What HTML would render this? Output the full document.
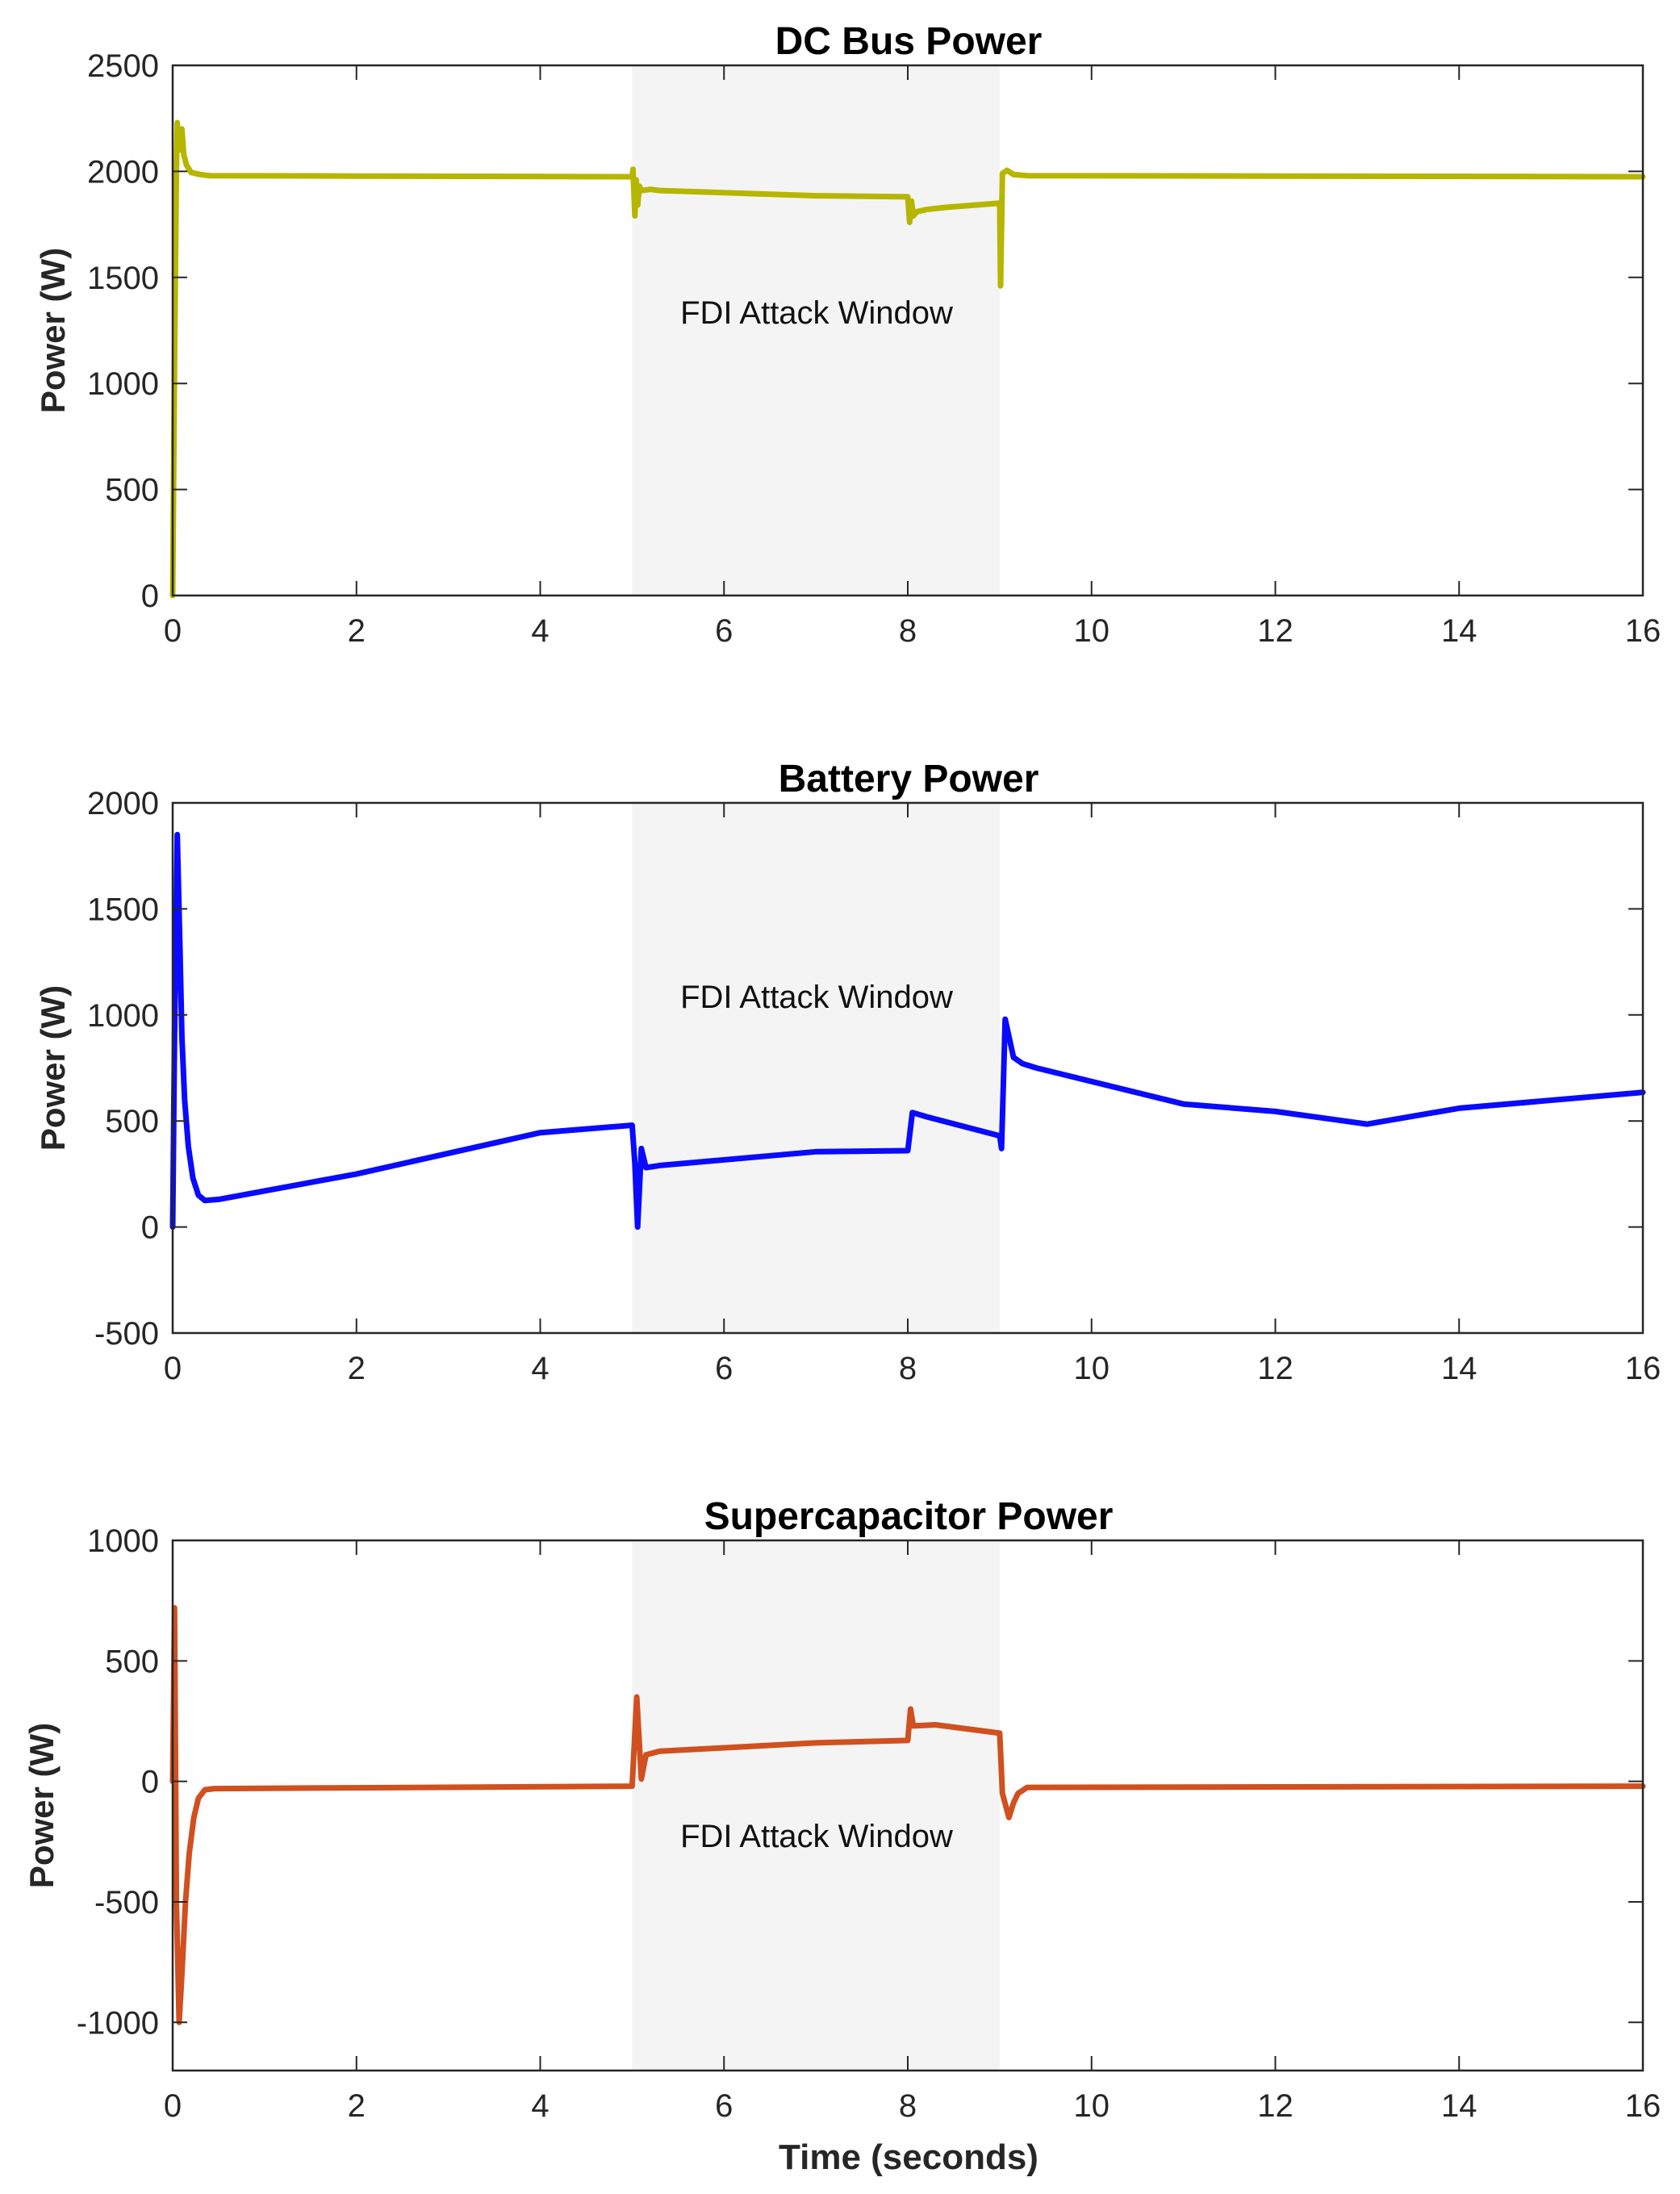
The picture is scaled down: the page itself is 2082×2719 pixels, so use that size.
<!DOCTYPE html>
<html><head><meta charset="utf-8"><style>
html,body{margin:0;padding:0;background:#fff}
svg{display:block;font-family:"Liberation Sans",Arial,sans-serif}
</style></head><body>
<svg id="fig" width="2082" height="2719" viewBox="0 0 2082 2719" xmlns="http://www.w3.org/2000/svg"></svg>
<script>
const xTicks = [0,2,4,6,8,10,12,14,16];
const attackWindow = [5,9];

const dcTimes  = [0,0.02,0.04,0.05,0.07,0.1,0.12,0.15,0.2,0.3,0.4,2,5,5.01,5.03,5.045,5.06,5.08,5.1,5.2,5.3,7,8,8.02,8.04,8.06,8.1,8.2,8.4,9,9.01,9.03,9.08,9.15,9.3,16];
const dcValues = [0,1100,2000,2230,2100,2200,2080,2030,1995,1985,1980,1978,1975,2010,1790,1960,1840,1930,1910,1915,1910,1885,1880,1760,1860,1790,1810,1820,1830,1850,1460,1990,2005,1985,1980,1975];
const dcTicks = [0,500,1000,1500,2000,2500];

const batTimes  = [0,0.02,0.05,0.08,0.1,0.13,0.17,0.22,0.28,0.35,0.5,2,4,5,5.03,5.06,5.1,5.15,5.3,7,8,8.05,8.2,9,9.02,9.06,9.1,9.15,9.25,9.4,11,12,13,14,16];
const batValues = [0,900,1850,1300,900,600,380,230,150,125,130,250,445,480,300,0,370,280,290,355,360,540,520,430,370,980,900,800,770,750,580,545,485,560,635];
const batTicks = [-500,0,500,1000,1500,2000];

const scTimes  = [0,0.02,0.04,0.07,0.1,0.14,0.18,0.23,0.28,0.35,0.45,5,5.05,5.1,5.15,5.3,7,8,8.03,8.06,8.3,9,9.03,9.1,9.15,9.2,9.3,16];
const scValues = [0,720,-500,-1000,-800,-500,-300,-150,-70,-35,-30,-20,350,10,110,125,160,170,300,230,235,200,-50,-150,-90,-50,-25,-20];
const scTicks = [-1000,-500,0,500,1000];

const NS="http://www.w3.org/2000/svg";
const svg=document.getElementById('fig');
const L=214,R=2036,H=657;
function mk(tag,attrs,parent){const e=document.createElementNS(NS,tag);for(const k in attrs)e.setAttribute(k,attrs[k]);(parent||svg).appendChild(e);return e;}
function xs(t){return L+(t-0)/(16-0)*(R-L);}

function panel(top,ymin,ymax,yTicks,times,vals,color,title,name,fdiY,ylx){
  const g=mk('g',{});
  
  
  const ys=v=>top+H-(v-ymin)/(ymax-ymin)*H;
  const sh=mk('rect',{x:xs(attackWindow[0]),y:top,width:xs(attackWindow[1])-xs(attackWindow[0]),height:H,fill:'#f4f4f4'},g);
  
  
  const ft=mk('text',{x:1012,y:fdiY,'font-size':40,fill:'#111','text-anchor':'middle'},g);
  ft.textContent='FDI Attack Window';
  
  
  let d='';
  times.forEach((t,i)=>{d+=(i?'L':'M')+xs(t).toFixed(1)+' '+ys(vals[i]).toFixed(1);});
  const p=mk('path',{d:d,fill:'none',stroke:color,'stroke-width':7,'stroke-linejoin':'round','stroke-linecap':'round'},g);
  
  
  const ax=mk('rect',{x:L,y:top,width:R-L,height:H,fill:'none',stroke:'#262626','stroke-width':2.5},g);
  
  
  xTicks.forEach(t=>{
    const x=xs(t);
    mk('line',{x1:x,x2:x,y1:top+H,y2:top+H-18,stroke:'#262626','stroke-width':2},g);
    mk('line',{x1:x,x2:x,y1:top,y2:top+18,stroke:'#262626','stroke-width':2},g);
    const tl=mk('text',{x:x,y:top+H+57,'font-size':40,fill:'#262626','text-anchor':'middle'},g);
    tl.textContent=t;
    
    
  });
  yTicks.forEach(v=>{
    const y=ys(v);
    mk('line',{x1:L,x2:L+18,y1:y,y2:y,stroke:'#262626','stroke-width':2},g);
    mk('line',{x1:R,x2:R-18,y1:y,y2:y,stroke:'#262626','stroke-width':2},g);
    const tl=mk('text',{x:197,y:y+14,'font-size':40,fill:'#262626','text-anchor':'end'},g);
    tl.textContent=v;
    
    
  });
  const tt=mk('text',{x:1126,y:top-14,'font-size':48,'font-weight':'bold',fill:'#000','text-anchor':'middle'},g);
  tt.textContent=title;
  
  
  const yl=mk('text',{x:0,y:0,'font-size':42,'font-weight':'bold',fill:'#262626','text-anchor':'middle',transform:`translate(${ylx},${top+H/2}) rotate(-90)`},g);
  yl.textContent='Power (W)';
  
  
}
panel(81,0,2500,dcTicks,dcTimes,dcValues,'#b6b600','DC Bus Power','dc-bus',401,80);
panel(995,-500,2000,batTicks,batTimes,batValues,'#0a0aff','Battery Power','battery',1249,80);
panel(1909,-1200,1000,scTicks,scTimes,scValues,'#d05020','Supercapacitor Power','supercapacitor',2289,66);
const xl=mk('text',{x:1126,y:2688,'font-size':44,'font-weight':'bold',fill:'#262626','text-anchor':'middle'});
xl.textContent='Time (seconds)';


</script>
</body></html>
